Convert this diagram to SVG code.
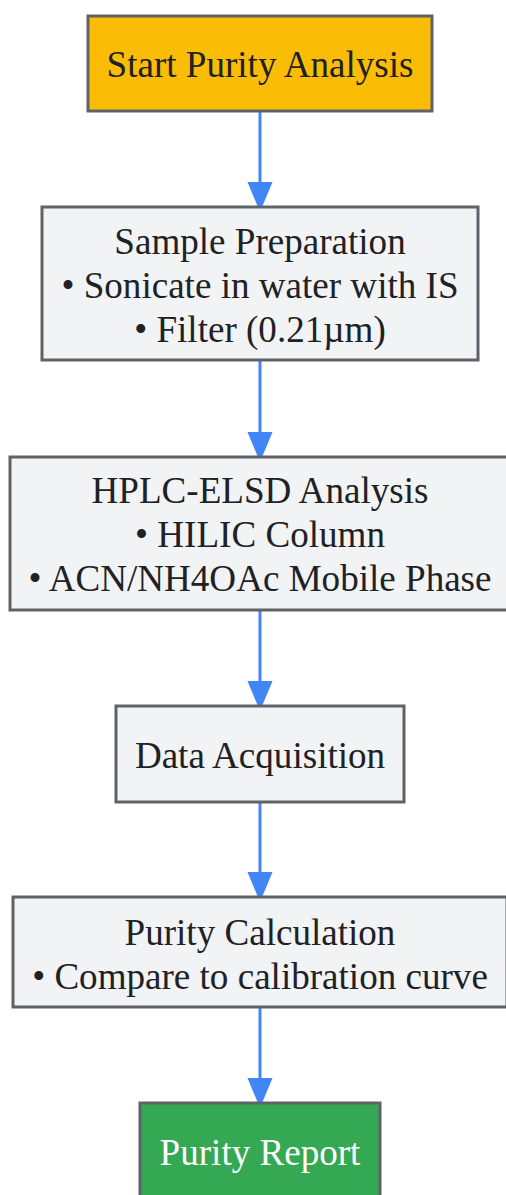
<svg xmlns="http://www.w3.org/2000/svg" width="506" height="1195" viewBox="0 0 506 1195">
<style>
.n rect{stroke:#5f6368;stroke-width:3}
.g{fill:#f1f3f4}
text{font-family:"Liberation Serif","Times New Roman",serif;font-size:37.1px;fill:#202124;text-anchor:middle}
.w{fill:#ffffff}
.e{stroke:#4285f4;stroke-width:3;fill:none}
</style>
<defs>
<marker id="ah" viewBox="0 0 25 30" refX="25" refY="12.5" markerWidth="25" markerHeight="30" markerUnits="userSpaceOnUse" orient="auto">
<path d="M0,0 L30,12.5 L0,25 Z" fill="#4285f4"/>
</marker>
</defs>
<rect width="506" height="1195" fill="#ffffff"/>
<g id="connectors">
<path class="e" d="M260,111 L260,207" marker-end="url(#ah)"/>
<path class="e" d="M260,360 L260,457" marker-end="url(#ah)"/>
<path class="e" d="M260,610 L260,706" marker-end="url(#ah)"/>
<path class="e" d="M260,802 L260,897" marker-end="url(#ah)"/>
<path class="e" d="M260,1007 L260,1103" marker-end="url(#ah)"/>
</g>
<g id="start" class="n">
<rect x="88" y="16" width="344" height="95" fill="#fbbc05"/>
<text x="260" y="77">Start Purity Analysis</text>
</g>
<g id="prep" class="n">
<rect class="g" x="42" y="207" width="436" height="153"/>
<text x="260" y="254">Sample Preparation</text>
<text x="260" y="298">• Sonicate in water with IS</text>
<text x="260" y="342">• Filter (0.21µm)</text>
</g>
<g id="hplc" class="n">
<rect class="g" x="10" y="457" width="500" height="153"/>
<text x="260" y="503">HPLC-ELSD Analysis</text>
<text x="260" y="547">• HILIC Column</text>
<text x="260" y="591">• ACN/NH4OAc Mobile Phase</text>
</g>
<g id="acq" class="n">
<rect class="g" x="116" y="706" width="288" height="96"/>
<text x="260" y="768">Data Acquisition</text>
</g>
<g id="calc" class="n">
<rect class="g" x="13" y="897" width="494" height="110"/>
<text x="260" y="945">Purity Calculation</text>
<text x="260" y="989">• Compare to calibration curve</text>
</g>
<g id="report" class="n">
<rect x="140" y="1103" width="240" height="100" fill="#34a853"/>
<text class="w" x="260" y="1165">Purity Report</text>
</g>
</svg>
